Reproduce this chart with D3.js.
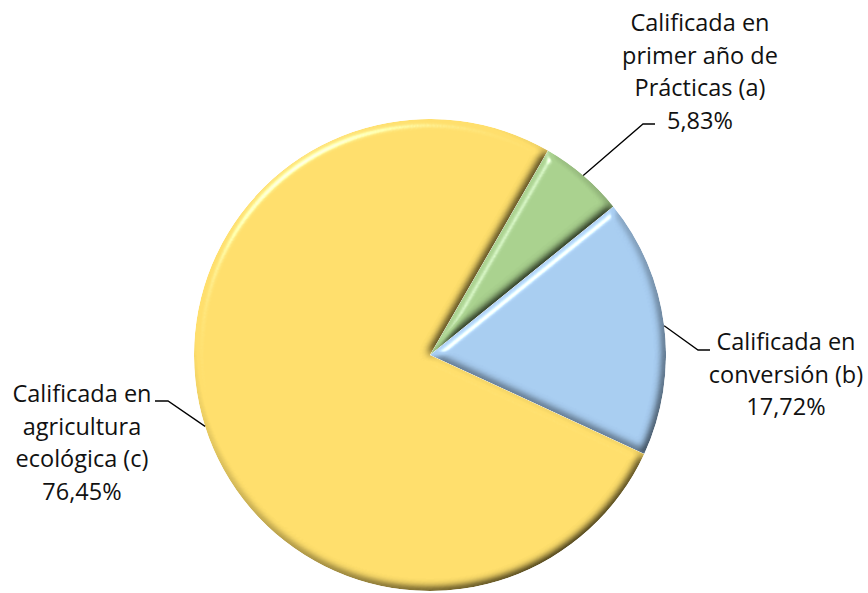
<!DOCTYPE html>
<html><head><meta charset="utf-8">
<script src="https://cdn.jsdelivr.net/npm/d3@7"></script>
<style>html,body{margin:0;padding:0;background:#fff;}svg{display:block;}</style>
</head><body>
<svg id="chart" width="868" height="593"></svg>
<script>
// ---- data ----
const categories = ["Calificada en primer año de Prácticas (a)", "Calificada en conversión (b)", "Calificada en agricultura ecológica (c)"];
const labelLines = [["Calificada en", "primer año de", "Prácticas (a)"], ["Calificada en", "conversión (b)"], ["Calificada en", "agricultura", "ecológica (c)"]];
const values = [5.83, 17.72, 76.45];

// ---- layout ----
const W = 868, H = 593;
const cx = 430, cy = 355, R = 236;
const startDeg = 30;
const colors = ["#A9D18E", "#A8CDF1", "#FFDF6C"];
const labelLayout = [
  {x: 700, y: 31, elbow: [643, 124], end: [655, 124]},
  {x: 786, y: 350, elbow: [698, 350], end: [710, 350]},
  {x: 82, y: 402, elbow: [168, 401], end: [155, 401]}
];
const lineH = 32.5;

const svg = d3.select("#chart");
const defs = svg.append("defs");
const f = defs.append("filter").attr("id", "bevel").attr("x", "-10%").attr("y", "-10%").attr("width", "120%").attr("height", "120%");
f.append("feGaussianBlur").attr("in", "SourceAlpha").attr("stdDeviation", 5).attr("result", "blur");
const dl = f.append("feDiffuseLighting").attr("in", "blur").attr("surfaceScale", 7).attr("diffuseConstant", 1.0 / Math.sin(55 * Math.PI / 180)).attr("lighting-color", "#fff").attr("result", "diff");
dl.append("feDistantLight").attr("azimuth", 235).attr("elevation", 55);
f.append("feComposite").attr("in", "SourceGraphic").attr("in2", "diff").attr("operator", "arithmetic").attr("k1", 1).attr("k2", 0).attr("k3", 0).attr("k4", 0).attr("result", "shaded");
const sl = f.append("feSpecularLighting").attr("in", "blur").attr("surfaceScale", 7).attr("specularConstant", 0.9).attr("specularExponent", 40).attr("lighting-color", "#fff").attr("result", "spec");
sl.append("feDistantLight").attr("azimuth", 235).attr("elevation", 30);
f.append("feComposite").attr("in", "spec").attr("in2", "SourceAlpha").attr("operator", "in").attr("result", "specIn");
f.append("feComposite").attr("in", "shaded").attr("in2", "specIn").attr("operator", "arithmetic").attr("k1", 0).attr("k2", 1).attr("k3", 0.7).attr("k4", 0).attr("result", "lit");
f.append("feComposite").attr("in", "lit").attr("in2", "SourceAlpha").attr("operator", "in");

const pie = d3.pie().sort(null).value(d => d)
  .startAngle(startDeg * Math.PI / 180)
  .endAngle(startDeg * Math.PI / 180 + 2 * Math.PI);
const arcs = pie(values);
const arc = d3.arc().innerRadius(0).outerRadius(R);

const g = svg.append("g").attr("transform", `translate(${cx},${cy})`);
g.selectAll("path.slice").data(arcs).join("path")
  .attr("class", "slice")
  .attr("d", arc)
  .attr("fill", (d, i) => colors[i])
  .attr("filter", "url(#bevel)");

const fmt = v => d3.format(".2f")(v).replace(".", ",") + "%";

arcs.forEach((d, i) => {
  const a = (d.startAngle + d.endAngle) / 2;
  const p0 = [cx + R * Math.sin(a), cy - R * Math.cos(a)];
  const L = labelLayout[i];
  svg.append("polyline")
    .attr("points", [p0, L.elbow, L.end].map(p => p.join(",")).join(" "))
    .attr("fill", "none").attr("stroke", "#000").attr("stroke-width", 1.3);
  const t = svg.append("text")
    .attr("x", L.x).attr("y", L.y)
    .attr("text-anchor", "middle")
    .attr("font-family", "'Open Sans', 'Noto Sans', sans-serif")
    .attr("font-size", 23.5).attr("fill", "#111");
  labelLines[i].concat([fmt(values[i])]).forEach((ln, k) => {
    t.append("tspan").attr("x", L.x).attr("y", L.y + k * lineH).text(ln);
  });
});
</script>
</body></html>
